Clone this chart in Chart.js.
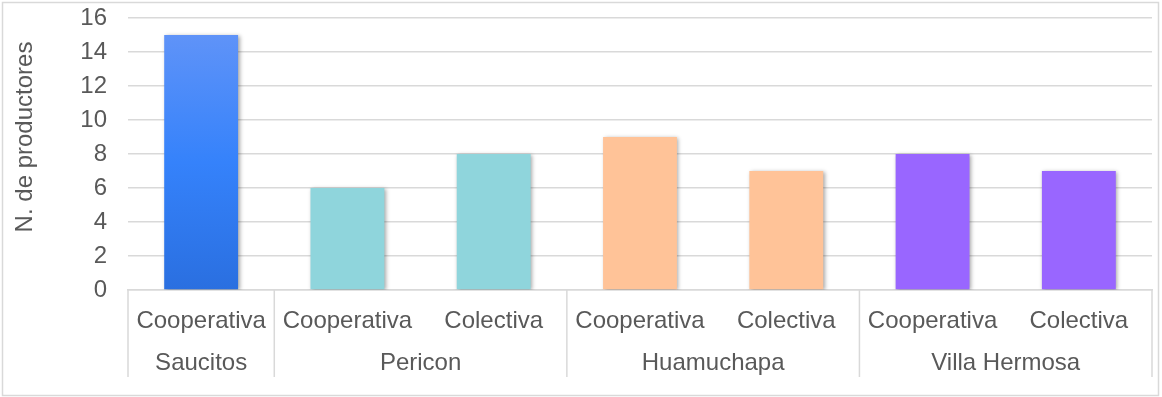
<!DOCTYPE html>
<html lang="es">
<head>
<meta charset="UTF-8">
<title>N. de productores</title>
<script src="https://cdn.jsdelivr.net/npm/chart.js@4.4.1/dist/chart.umd.min.js"></script>
<style>
  body { margin: 0; background: #fff; }
  #wrap { width: 1162px; height: 397px; }
</style>
</head>
<body>
<div id="wrap"><canvas id="grafica" width="1162" height="397"></canvas></div>
<script>
// localidades y cuantas barras tiene cada una
const localidades = ['Saucitos', 'Pericon', 'Huamuchapa', 'Villa Hermosa'];
const barrasPorLocalidad = [1, 2, 2, 2];
const organizacion = ['Cooperativa', 'Cooperativa', 'Colectiva', 'Cooperativa', 'Colectiva', 'Cooperativa', 'Colectiva'];
const productores = [15, 6, 8, 9, 7, 8, 7];
const colores = ['grad', '#8fd5dc', '#8fd5dc', '#ffc398', '#ffc398', '#9966ff', '#9966ff'];

const fuente = '"Liberation Sans", Arial, sans-serif';
const gris = '#595959';
const linea = '#d9d9d9';
const tamLetra = 24;

function colorBarra(c) {
  const col = colores[c.dataIndex];
  if (col !== 'grad') return col;
  const ch = c.chart;
  if (!ch.chartArea) return '#3582fb';
  const y = ch.scales.y;
  const g = ch.ctx.createLinearGradient(0, y.getPixelForValue(productores[c.dataIndex]), 0, y.getPixelForValue(0));
  g.addColorStop(0, '#5f93f8');
  g.addColorStop(0.5, '#3582fb');
  g.addColorStop(1, '#2a6fe0');
  return g;
}

// sombra suave de las barras
const sombra = {
  id: 'sombra',
  beforeDatasetsDraw(chart) {
    const ctx = chart.ctx;
    ctx.save();
    ctx.shadowColor = 'rgba(0,0,0,0.35)';
    ctx.shadowBlur = 4;
    ctx.shadowOffsetX = 1.5;
    ctx.shadowOffsetY = 1;
  },
  afterDatasetsDraw(chart) {
    chart.ctx.restore();
  }
};

// eje de dos niveles y marco exterior
const ejeGrupos = {
  id: 'ejeGrupos',
  afterDraw(chart) {
    const ctx = chart.ctx;
    const x = chart.scales.x;
    const area = chart.chartArea;
    const paso = (area.right - area.left) / organizacion.length;
    ctx.save();
    ctx.strokeStyle = linea;
    ctx.lineWidth = 1.5;
    ctx.strokeRect(2.5, 2.5, 1156, 393);
    let i = 0;
    const bordes = [0];
    barrasPorLocalidad.forEach(n => { i += n; bordes.push(i); });
    bordes.forEach(b => {
      const xx = area.left + b * paso;
      ctx.beginPath();
      ctx.moveTo(xx, area.bottom);
      ctx.lineTo(xx, 377);
      ctx.stroke();
    });
    ctx.fillStyle = gris;
    ctx.font = tamLetra + 'px ' + fuente;
    ctx.textAlign = 'center';
    ctx.textBaseline = 'middle';
    localidades.forEach((nombre, k) => {
      const a = x.getPixelForValue(bordes[k]);
      const b = x.getPixelForValue(bordes[k + 1] - 1);
      ctx.fillText(nombre, (a + b) / 2, 363);
    });
    ctx.restore();
  }
};

const tituloY = {
  id: 'tituloY',
  afterDraw(chart) {
    const ctx = chart.ctx;
    ctx.save();
    ctx.translate(25, 137);
    ctx.rotate(-Math.PI / 2);
    ctx.fillStyle = gris;
    ctx.font = tamLetra + 'px ' + fuente;
    ctx.textAlign = 'center';
    ctx.textBaseline = 'middle';
    ctx.fillText('N. de productores', 0, 0);
    ctx.restore();
  }
};

new Chart(document.getElementById('grafica'), {
  type: 'bar',
  data: {
    labels: organizacion,
    datasets: [{
      data: productores,
      backgroundColor: colorBarra,
      borderWidth: 0,
      categoryPercentage: 1,
      barPercentage: 0.505
    }]
  },
  options: {
    responsive: false,
    animation: false,
    layout: { padding: { top: 18, right: 10, bottom: 0, left: 0 } },
    plugins: { legend: { display: false }, tooltip: { enabled: false } },
    scales: {
      x: {
        afterFit(s) { s.height = 107; s.paddingLeft = 0; s.paddingRight = 0; },
        grid: { display: false, drawTicks: false },
        border: { color: linea, width: 1.5 },
        ticks: { color: gris, font: { family: fuente, size: tamLetra }, padding: 17, maxRotation: 0, autoSkip: false }
      },
      y: {
        min: 0,
        max: 16,
        afterFit(s) { s.width = 128; s.paddingTop = 0; s.paddingBottom = 0; },
        grid: { color: linea, lineWidth: 1.5, drawTicks: false },
        border: { display: false },
        ticks: { stepSize: 2, color: gris, font: { family: fuente, size: tamLetra }, padding: 21 }
      }
    }
  },
  plugins: [sombra, ejeGrupos, tituloY]
});
</script>
</body>
</html>
